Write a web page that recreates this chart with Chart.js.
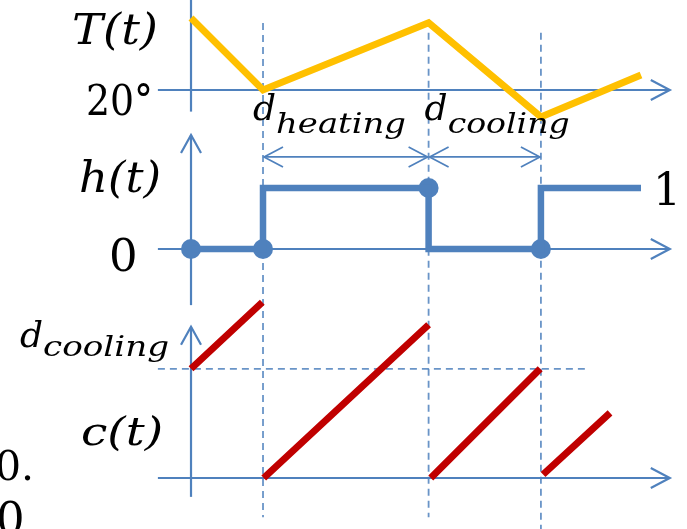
<!DOCTYPE html>
<html>
<head>
<meta charset="utf-8">
<script src="https://cdn.jsdelivr.net/npm/chart.js@4.4.1/dist/chart.umd.min.js"></script>
<style>
    html, body { margin: 0; padding: 0; background: #fff; }
    #wrap { width: 687px; height: 529px; position: relative; }
</style>
</head>
<body>
<div id="wrap"><canvas id="chart-termostato"></canvas></div>
<script>
/* ===== datos (tiempo en minutos) ===== */
const tempTimes  = [0, 10, 33, 48.6, 62.5];
const tempValues = [26, 20, 25.6, 17.75, 21.25];   // T(t), grados

const heaterTimes  = [0, 10, 33, 48.6, 62.5];
const heaterValues = [0, 1, 0, 1, 1];              // h(t)

const switchTimes  = [0, 10, 33, 48.6];
const switchValues = [0, 0, 1, 0];                 // puntos de cambio

const counterStart = [0, 10.1, 33.3, 48.9];
const counterEnd   = [9.9, 33, 48.5, 58.2];
const counterFrom  = [15.6, 0, 0, 0.5];
const counterTo    = [25.1, 21.9, 15.6, 9.3];      // c(t)

const eventTimes = [10, 33, 48.6];
const dCooling = 15.6;
const tempRef = 20;

const AZUL = '#4f81bd';
const ORO = '#ffc000';
const ROJO = '#c00000';
const FUENTE = '"DejaVu Serif"';

/* ===== datasets ===== */
let datosTemp = tempTimes.map((t, i) => ({ x: t, y: tempValues[i] }));
let datosHeater = heaterTimes.map((t, i) => ({ x: t, y: heaterValues[i] }));
let datosSwitch = switchTimes.map((t, i) => ({ x: t, y: switchValues[i] }));

let datosCounter = [];
counterStart.forEach((t, i) => {
    if (i > 0) datosCounter.push({ x: (counterEnd[i - 1] + t) / 2, y: null }); // hueco
    datosCounter.push({ x: t, y: counterFrom[i] });
    datosCounter.push({ x: counterEnd[i], y: counterTo[i] });
});

/* ===== dibujo de ejes y textos ===== */
function flecha(ctx, x, y, dir) {
    ctx.beginPath();
    if (dir === 'right') { ctx.moveTo(x - 19, y - 10); ctx.lineTo(x, y); ctx.lineTo(x - 19, y + 10); }
    if (dir === 'left')  { ctx.moveTo(x + 19, y - 10); ctx.lineTo(x, y); ctx.lineTo(x + 19, y + 10); }
    if (dir === 'up')    { ctx.moveTo(x - 10, y + 18); ctx.lineTo(x, y); ctx.lineTo(x + 10, y + 18); }
    ctx.stroke();
}

function linea(ctx, x1, y1, x2, y2) {
    ctx.beginPath();
    ctx.moveTo(x1, y1);
    ctx.lineTo(x2, y2);
    ctx.stroke();
}

// texto ajustado a un ancho (la fuente Cambria original es mas ancha)
function texto(ctx, str, x, y, font, ancho) {
    ctx.font = font;
    let w = ctx.measureText(str).width;
    ctx.save();
    ctx.translate(x, y);
    if (ancho) ctx.scale(ancho / w, 1);
    ctx.fillText(str, 0, 0);
    ctx.restore();
}

function dSub(ctx, x, y, sub, dySub, ancho) {
    texto(ctx, 'd', x, y, 'italic 36px ' + FUENTE);
    let w = ctx.measureText('d').width;
    texto(ctx, sub, x + w, y + dySub, 'italic 27px ' + FUENTE, ancho);
}

const pluginDiagrama = {
    id: 'diagrama',
    beforeDatasetsDraw(chart) {
        const ctx = chart.ctx;
        const sx = chart.scales.x, sT = chart.scales.yT, sH = chart.scales.yH, sC = chart.scales.yC;
        const x0 = sx.getPixelForValue(0);
        const xIni = sx.getPixelForValue(-4.6);
        const xFin = sx.getPixelForValue(66.5);

        ctx.save();
        ctx.strokeStyle = AZUL;
        ctx.lineWidth = 2.2;

        // panel T(t)
        linea(ctx, x0, sT.getPixelForValue(27.5), x0, sT.getPixelForValue(18.2));
        let yT = sT.getPixelForValue(tempRef);
        linea(ctx, xIni, yT, xFin, yT);
        flecha(ctx, xFin, yT, 'right');

        // panel h(t)
        let yHtop = sH.getPixelForValue(1.87);
        linea(ctx, x0, yHtop, x0, sH.getPixelForValue(-0.92));
        flecha(ctx, x0, yHtop, 'up');
        let yH = sH.getPixelForValue(0);
        linea(ctx, xIni, yH, xFin, yH);
        flecha(ctx, xFin, yH, 'right');

        // panel c(t)
        let yCtop = sC.getPixelForValue(21.6);
        linea(ctx, x0, yCtop, x0, sC.getPixelForValue(-2.7));
        flecha(ctx, x0, yCtop, 'up');
        let yC = sC.getPixelForValue(0);
        linea(ctx, xIni, yC, xFin, yC);
        flecha(ctx, xFin, yC, 'right');

        // flechas dobles d_heating / d_cooling
        ctx.lineWidth = 1.7;
        let yD = sH.getPixelForValue(1.51);
        for (let i = 0; i < eventTimes.length - 1; i++) {
            let a = sx.getPixelForValue(eventTimes[i]) + 1;
            let b = sx.getPixelForValue(eventTimes[i + 1]) - 1;
            linea(ctx, a, yD, b, yD);
            flecha(ctx, a, yD, 'left');
            flecha(ctx, b, yD, 'right');
        }

        // lineas discontinuas
        ctx.setLineDash([7, 5]);
        ctx.lineWidth = 1.8;
        ctx.strokeStyle = 'rgba(79,129,189,0.85)';
        eventTimes.forEach((t, i) => {
            let x = sx.getPixelForValue(t);
            let arriba = sC.getPixelForValue(i === 0 ? 65 : 63.6);
            let abajo = sC.getPixelForValue(i === 2 ? -8 : -5.6);
            linea(ctx, x, arriba, x, abajo);
        });
        let yDc = sC.getPixelForValue(dCooling);
        linea(ctx, xIni, yDc, sx.getPixelForValue(54.7), yDc);
        ctx.restore();
    },
    afterDatasetsDraw(chart) {
        const ctx = chart.ctx;
        const sx = chart.scales.x, sT = chart.scales.yT, sH = chart.scales.yH, sC = chart.scales.yC;
        ctx.save();
        ctx.fillStyle = '#000';
        ctx.textBaseline = 'alphabetic';
        ctx.textAlign = 'left';

        // titulos de cada panel
        texto(ctx, 'T(t)', 72, 44, 'italic 42px ' + FUENTE, 86);
        texto(ctx, 'h(t)', 79, 192, 'italic 42px ' + FUENTE, 82);
        texto(ctx, 'c(t)', 81, 445, 'italic 40px ' + FUENTE, 82);

        // valores de referencia
        texto(ctx, '20°', 86, sT.getPixelForValue(tempRef) + 25, '42px ' + FUENTE, 67);
        texto(ctx, '0', 109, sH.getPixelForValue(0) + 22, '45px ' + FUENTE);
        texto(ctx, '1', 653, sH.getPixelForValue(heaterValues[heaterValues.length - 1]) + 17, '44px ' + FUENTE);

        // restos del texto de al lado
        texto(ctx, '0.', -5, 480, '41px ' + FUENTE);
        texto(ctx, '0', -4, 534, '45px ' + FUENTE);

        // duraciones
        dSub(ctx, sx.getPixelForValue(eventTimes[0]) - 10, 120, 'heating', 13, 130);
        dSub(ctx, sx.getPixelForValue(eventTimes[1]) - 4, 120, 'cooling', 13, 122);
        dSub(ctx, 20, sC.getPixelForValue(dCooling) - 22, 'cooling', 9, 126);
        ctx.restore();
    }
};

/* ===== grafica ===== */
let ctxTermostato = document.getElementById('chart-termostato');

let miGrafica = new Chart(ctxTermostato, {
    type: 'line',
    data: {
        datasets: [
            {
                label: 'T(t)',
                data: datosTemp,
                yAxisID: 'yT',
                borderColor: ORO,
                borderWidth: 7,
                pointRadius: 0,
                tension: 0,
            },
            {
                label: 'h(t)',
                data: datosHeater,
                yAxisID: 'yH',
                borderColor: AZUL,
                borderWidth: 6.5,
                stepped: true,
                pointRadius: 0,
            },
            {
                label: 'cambios',
                data: datosSwitch,
                yAxisID: 'yH',
                showLine: false,
                pointRadius: 10,
                pointBackgroundColor: AZUL,
                pointBorderColor: AZUL,
                pointBorderWidth: 0,
            },
            {
                label: 'c(t)',
                data: datosCounter,
                yAxisID: 'yC',
                borderColor: ROJO,
                borderWidth: 7,
                pointRadius: 0,
                spanGaps: false,
                tension: 0,
            },
        ]
    },
    options: {
        responsive: true,
        maintainAspectRatio: false,
        animation: false,
        layout: { padding: 0, autoPadding: false },
        scales: {
            x: { type: 'linear', min: -26.53, max: 68.89, display: false },
            yT: { type: 'linear', min: -16.58, max: 27.5, display: false },
            yH: { type: 'linear', min: -4.59, max: 4.082, display: false },
            yC: { type: 'linear', min: -7.29, max: 68.29, display: false },
        },
        plugins: {
            legend: false,
            title: { display: false },
            tooltip: { enabled: false },
        }
    },
    plugins: [pluginDiagrama]
});
</script>
</body>
</html>
